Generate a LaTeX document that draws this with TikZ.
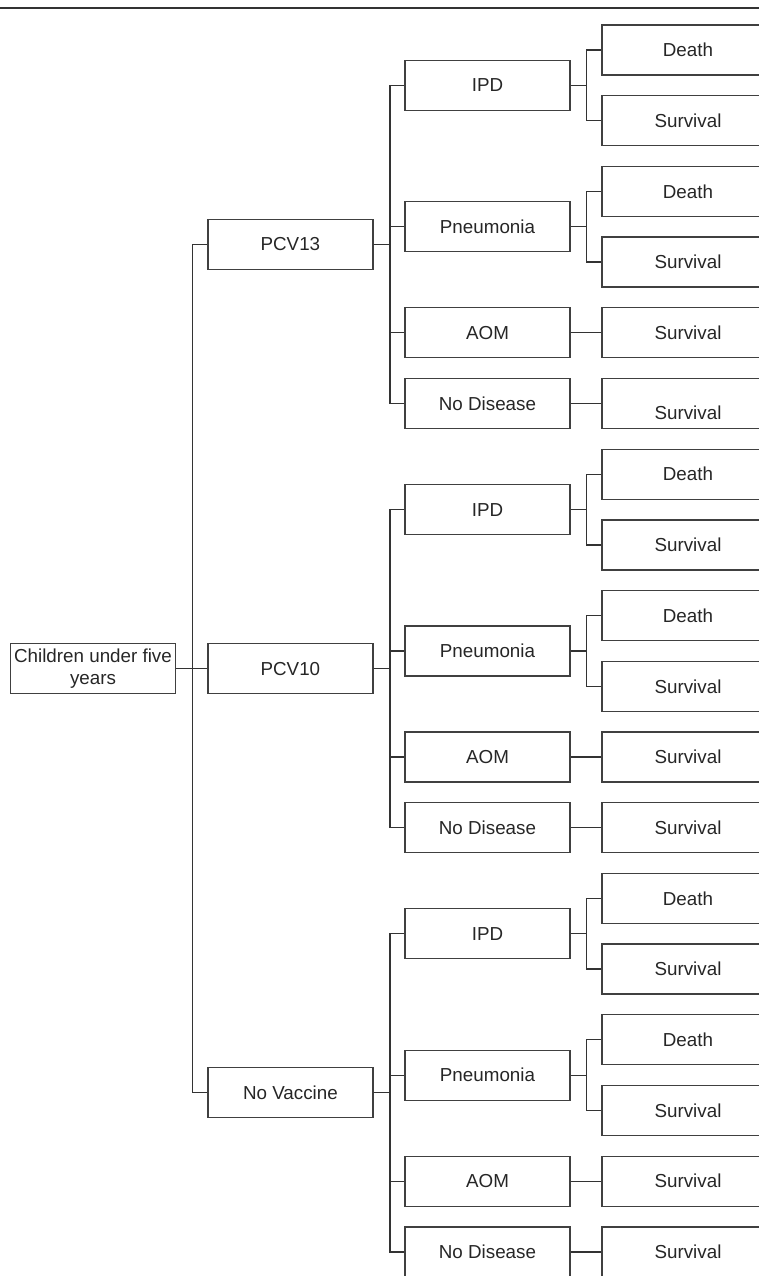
\documentclass[tikz,border=0pt]{standalone}
\usepackage{fontspec}
\setmainfont{Liberation Sans}
\begin{document}
\begin{tikzpicture}
	[
	x = {(0.5pt, 0pt)},
	y = {(0pt, -0.5pt)},
	treebox/.style = {rectangle, draw = black!75, line width = 0.65pt, inner sep = 0pt, minimum width = 82.5pt, minimum height = 25pt, align = center, text = black!85, font = \fontsize{9.4}{10.6}\selectfont},
	outcomebox/.style = {treebox, minimum width = 86pt},
	link/.style = {draw = black!80, line width = 0.65pt},
	toprule/.style = {draw = black!80, line width = 1pt}]
	
	\useasboundingbox (0, 0) rectangle (759, 1276);
	\clip (0, 0) rectangle (759, 1276);
	
	\draw[toprule] (0, 7.5) -- (759, 7.5);
	
	%% Root and vaccine arms
	
	\node[treebox] (children) at (93.0, 668.6) {Children under five\\years};
	\node[treebox] (pcv13) at (290.4, 244.4) {PCV13};
	\node[treebox] (pcv10) at (290.4, 668.6) {PCV10};
	\node[treebox] (novac) at (290.4, 1092.8) {No Vaccine};
	
	%% PCV13 arm
	
	\node[treebox] (ipdA) at (487.5, 85.35) {IPD};
	\node[treebox] (pneuA) at (487.5, 226.75) {Pneumonia};
	\node[treebox] (aomA) at (487.5, 332.8) {AOM};
	\node[treebox] (nodisA) at (487.5, 403.5) {No Disease};
	\node[outcomebox] (ipdDeathA) at (688, 50.0) {Death};
	\node[outcomebox] (ipdSurvA) at (688, 120.7) {Survival};
	\node[outcomebox] (pneuDeathA) at (688, 191.4) {Death};
	\node[outcomebox] (pneuSurvA) at (688, 262.1) {Survival};
	\node[outcomebox] (aomSurvA) at (688, 332.8) {Survival};
	\node[outcomebox, text height = 15.9pt] (nodisSurvA) at (688, 403.5) {Survival};
	
	%% PCV10 arm
	
	\node[treebox] (ipdB) at (487.5, 509.55) {IPD};
	\node[treebox] (pneuB) at (487.5, 650.95) {Pneumonia};
	\node[treebox] (aomB) at (487.5, 757.0) {AOM};
	\node[treebox] (nodisB) at (487.5, 827.7) {No Disease};
	\node[outcomebox] (ipdDeathB) at (688, 474.2) {Death};
	\node[outcomebox] (ipdSurvB) at (688, 544.9) {Survival};
	\node[outcomebox] (pneuDeathB) at (688, 615.6) {Death};
	\node[outcomebox] (pneuSurvB) at (688, 686.3) {Survival};
	\node[outcomebox] (aomSurvB) at (688, 757.0) {Survival};
	\node[outcomebox] (nodisSurvB) at (688, 827.7) {Survival};
	
	%% No vaccine arm
	
	\node[treebox] (ipdC) at (487.5, 933.75) {IPD};
	\node[treebox] (pneuC) at (487.5, 1075.15) {Pneumonia};
	\node[treebox] (aomC) at (487.5, 1181.2) {AOM};
	\node[treebox] (nodisC) at (487.5, 1251.9) {No Disease};
	\node[outcomebox] (ipdDeathC) at (688, 898.4) {Death};
	\node[outcomebox] (ipdSurvC) at (688, 969.1) {Survival};
	\node[outcomebox] (pneuDeathC) at (688, 1039.8) {Death};
	\node[outcomebox] (pneuSurvC) at (688, 1110.5) {Survival};
	\node[outcomebox] (aomSurvC) at (688, 1181.2) {Survival};
	\node[outcomebox] (nodisSurvC) at (688, 1251.9) {Survival};
	
	%% Drawing the branches
	
	\draw[link] (children.east) -- ++(16.5, 0) |- (pcv13.west);
	\draw[link] (children.east) -- ++(16.5, 0) |- (pcv10.west);
	\draw[link] (children.east) -- ++(16.5, 0) |- (novac.west);
	
	\draw[link] (pcv13.east) -- ++(16.5, 0) |- (ipdA.west);
	\draw[link] (pcv13.east) -- ++(16.5, 0) |- (pneuA.west);
	\draw[link] (pcv13.east) -- ++(16.5, 0) |- (aomA.west);
	\draw[link] (pcv13.east) -- ++(16.5, 0) |- (nodisA.west);
	\draw[link] (ipdA.east) -- ++(16, 0) |- (ipdDeathA.west);
	\draw[link] (ipdA.east) -- ++(16, 0) |- (ipdSurvA.west);
	\draw[link] (pneuA.east) -- ++(16, 0) |- (pneuDeathA.west);
	\draw[link] (pneuA.east) -- ++(16, 0) |- (pneuSurvA.west);
	\draw[link] (aomA.east) -- (aomSurvA.west);
	\draw[link] (nodisA.east) -- (nodisSurvA.west);
	
	\draw[link] (pcv10.east) -- ++(16.5, 0) |- (ipdB.west);
	\draw[link] (pcv10.east) -- ++(16.5, 0) |- (pneuB.west);
	\draw[link] (pcv10.east) -- ++(16.5, 0) |- (aomB.west);
	\draw[link] (pcv10.east) -- ++(16.5, 0) |- (nodisB.west);
	\draw[link] (ipdB.east) -- ++(16, 0) |- (ipdDeathB.west);
	\draw[link] (ipdB.east) -- ++(16, 0) |- (ipdSurvB.west);
	\draw[link] (pneuB.east) -- ++(16, 0) |- (pneuDeathB.west);
	\draw[link] (pneuB.east) -- ++(16, 0) |- (pneuSurvB.west);
	\draw[link] (aomB.east) -- (aomSurvB.west);
	\draw[link] (nodisB.east) -- (nodisSurvB.west);
	
	\draw[link] (novac.east) -- ++(16.5, 0) |- (ipdC.west);
	\draw[link] (novac.east) -- ++(16.5, 0) |- (pneuC.west);
	\draw[link] (novac.east) -- ++(16.5, 0) |- (aomC.west);
	\draw[link] (novac.east) -- ++(16.5, 0) |- (nodisC.west);
	\draw[link] (ipdC.east) -- ++(16, 0) |- (ipdDeathC.west);
	\draw[link] (ipdC.east) -- ++(16, 0) |- (ipdSurvC.west);
	\draw[link] (pneuC.east) -- ++(16, 0) |- (pneuDeathC.west);
	\draw[link] (pneuC.east) -- ++(16, 0) |- (pneuSurvC.west);
	\draw[link] (aomC.east) -- (aomSurvC.west);
	\draw[link] (nodisC.east) -- (nodisSurvC.west);
\end{tikzpicture}
\end{document}
